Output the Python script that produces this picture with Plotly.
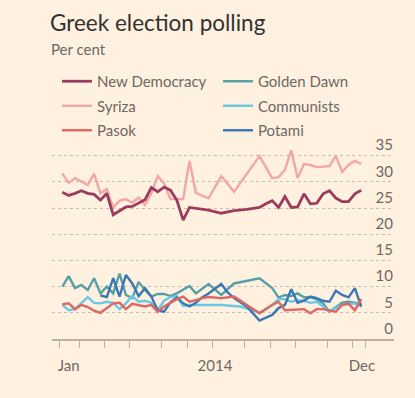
import plotly.graph_objects as go

# ---- data (week index of poll, per cent) ----
nd_week = list(range(0, 21)) + [22, 23, 25, 27, 29, 31] + list(range(32, 48))
nd_vals = [28.0, 27.4, 27.8, 28.3, 27.8, 27.6, 26.5, 27.8, 23.7, 24.5, 25.2, 25.3, 26.0, 26.6,
           28.9, 28.1, 29.0, 28.4, 26.5, 22.7, 25.1, 24.75, 24.6, 24.0, 24.5, 24.75, 25.1,
           25.8, 26.4, 25.1, 27.2, 25.1, 25.2, 27.7, 25.8, 25.9, 27.7, 28.3, 26.9, 26.2, 26.2,
           27.7, 28.4]

syriza_week = list(range(0, 22)) + [23, 25, 27, 31] + list(range(33, 48))
syriza_vals = [31.6, 29.8, 30.7, 30.0, 29.4, 31.5, 27.8, 28.6, 25.1, 26.4, 26.7, 26.0, 27.0,
               25.6, 27.8, 31.1, 29.7, 26.7, 26.7, 26.7, 34.0, 27.9, 26.85, 31.1, 28.1, 34.9,
               30.7, 30.9, 32.3, 36.0, 30.7, 33.4, 33.2, 32.8, 32.9, 33.0, 34.9, 31.9, 33.2,
               34.0, 33.4]

pasok_week = list(range(0, 24)) + [25, 27, 29, 31] + list(range(33, 48))
pasok_vals = [6.6, 6.8, 5.7, 6.5, 6.1, 5.4, 5.0, 5.9, 6.8, 6.9, 5.7, 6.7, 6.5, 6.2, 6.5, 5.2,
              6.2, 6.9, 7.6, 8.1, 7.1, 7.4, 7.8, 8.0, 7.8, 8.1, 6.5, 4.9, 6.5, 7.1, 5.5, 5.6,
              5.7, 5.7, 4.9, 5.7, 5.7, 5.4, 5.2, 6.5, 6.7, 5.5, 7.6]

gd_week = list(range(0, 19)) + [20, 21, 23, 25, 27, 31] + list(range(33, 48))
gd_vals = [10.0, 12.0, 9.7, 10.3, 9.35, 11.6, 8.7, 10.0, 8.7, 12.5, 8.4, 7.8, 10.9, 9.35, 8.1,
           8.6, 8.6, 8.2, 8.7, 10.1, 8.7, 10.5, 8.4, 10.6, 11.6, 9.7, 7.9, 8.4, 8.2, 8.7,
           7.96, 7.96, 7.6, 6.8, 5.2, 6.1, 6.95, 7.1, 6.95, 6.7]

kke_week = list(range(0, 21)) + [23, 25, 28, 31] + list(range(33, 48))
kke_vals = [6.5, 5.5, 5.7, 6.8, 8.0, 6.9, 6.8, 7.1, 6.9, 5.7, 6.8, 8.2, 7.1, 7.3, 6.9, 5.5,
            7.3, 8.0, 8.2, 6.3, 6.5, 6.5, 6.5, 6.2, 5.0, 6.5, 7.6, 7.6, 7.1, 7.4, 7.3, 6.9,
            7.1, 6.2, 5.2, 5.9, 6.5, 6.7, 6.8, 6.2]

potami_week = list(range(6, 24)) + [25, 26, 27, 29, 31] + list(range(33, 48))
potami_vals = [8.3, 8.0, 11.6, 8.1, 12.2, 10.6, 8.2, 9.7, 8.1, 5.5, 5.2, 7.0, 7.9, 6.8, 6.2,
               6.9, 7.95, 8.7, 10.5, 8.9, 7.8, 6.2, 3.5, 4.6, 5.9, 6.5, 9.5, 6.9, 7.3, 8.1,
               7.8, 7.3, 7.1, 9.2, 8.4, 7.95, 9.7, 6.2]

tick_weeks = [-0.52, 2.63, 6.6, 10.64, 15.63, 19.72, 23.59, 28.62, 32.66, 36.7, 41.74, 45.6, 47.7]
label_weeks = [1.0, 24.0, 47.1]
label_text = ["Jan", "2014", "Dec"]
y_ticks = [0, 5, 10, 15, 20, 25, 30, 35]

FONT = "Lato"
BG = "#fff1e0"
GREY = "#6e6863"

series = [
    # name, x, y, color, width, legend, rank
    ("Syriza", syriza_week, syriza_vals, "#f2a6a8", 2.4, "legend", 2),
    ("New Democracy", nd_week, nd_vals, "#9b3c5f", 2.8, "legend", 1),
    ("Golden Dawn", gd_week, gd_vals, "#54a0a6", 2.4, "legend2", 1),
    ("Communists", kke_week, kke_vals, "#6ac8e5", 2.4, "legend2", 2),
    ("Potami", potami_week, potami_vals, "#3a77b3", 2.4, "legend2", 3),
    ("Pasok", pasok_week, pasok_vals, "#df6663", 2.4, "legend", 3),
]

fig = go.Figure()
for name, xs, ys, col, w, leg, rank in series:
    fig.add_trace(go.Scatter(
        x=xs, y=ys, mode="lines", name=name,
        line=dict(color=col, width=w),
        legend=leg, legendrank=rank, legendgroup=name,
        hoverinfo="skip",
    ))

# invisible carrier trace for the label axis
fig.add_trace(go.Scatter(x=label_weeks, y=[0, 0, 0], xaxis="x2", yaxis="y",
                         mode="markers", marker=dict(opacity=0), showlegend=False,
                         hoverinfo="skip"))

xr = [-1.62, 52.15]
yr = [0, 38.93]
fig.update_layout(
    width=415, height=398,
    paper_bgcolor=BG, plot_bgcolor=BG,
    margin=dict(l=52, r=21, t=135, b=59, autoexpand=False),
    font=dict(family=FONT, color=GREY),
    title=dict(text="Greek election polling", x=50/415, xanchor="left", xref="container",
               y=1 - 23.5/398, yanchor="middle", yref="container",
               font=dict(family=FONT, size=22.5, color="#33302e")),
    xaxis=dict(range=xr, tickvals=tick_weeks, showticklabels=False, ticks="outside",
               ticklen=7, tickcolor="#b9b0a6", tickwidth=1, showline=True,
               linecolor="#b9b0a6", linewidth=1.5, showgrid=False, zeroline=False),
    xaxis2=dict(range=xr, overlaying="x", anchor="y", side="bottom", tickvals=label_weeks,
                ticktext=label_text, ticks="outside", ticklen=13,
                tickcolor="rgba(0,0,0,0)", showline=False, showgrid=False,
                zeroline=False, tickfont=dict(family=FONT, size=15, color=GREY)),
    yaxis=dict(range=yr, tickvals=y_ticks, side="right",
               ticklabelposition="inside top", ticklabelstandoff=-2, showgrid=True,
               griddash="dot", gridcolor="#c8bdb1", gridwidth=1, zeroline=False,
               showline=False, ticks="", tickfont=dict(family=FONT, size=15, color=GREY)),
    legend=dict(xref="container", yref="container", x=57/415, y=1 - 65/398,
                xanchor="left", yanchor="top", orientation="v", tracegroupgap=2,
                bgcolor="rgba(0,0,0,0)", font=dict(family=FONT, size=15, color=GREY)),
    legend2=dict(xref="container", yref="container", x=218/415, y=1 - 65/398,
                 xanchor="left", yanchor="top", orientation="v", tracegroupgap=2,
                 bgcolor="rgba(0,0,0,0)", font=dict(family=FONT, size=15, color=GREY)),
    annotations=[dict(text="Per cent", xref="paper", yref="paper", x=(49 - 52)/342,
                      y=(339 - 49)/204, xanchor="left", yanchor="middle", showarrow=False,
                      font=dict(family=FONT, size=15, color=GREY))],
)

fig.write_html("out.html",
               config={"displayModeBar": False},
               post_script="document.body.style.margin='0';"
                           "document.body.style.background='#fff1e0';")
